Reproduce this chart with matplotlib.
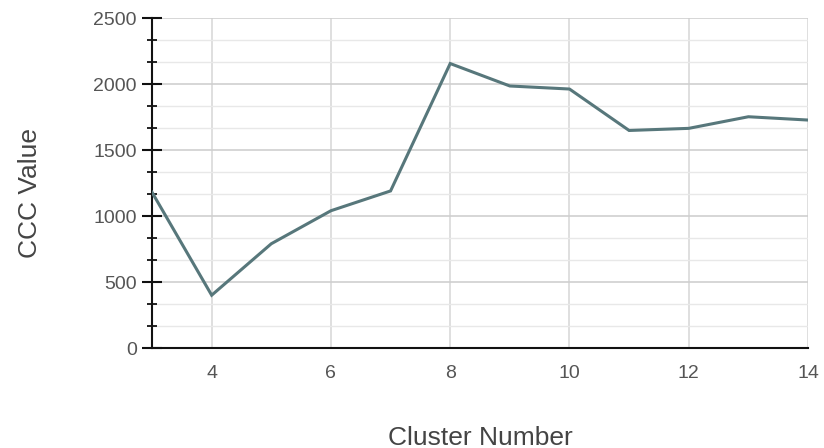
import matplotlib
matplotlib.use("Agg")
import matplotlib.pyplot as plt
from matplotlib.ticker import MultipleLocator

# CCC criterion by number of clusters
cluster_numbers = [3, 4, 5, 6, 7, 8, 9, 10, 11, 12, 13, 14]
ccc_values = [1180, 400, 790, 1040, 1190, 2155, 1985, 1962, 1648, 1664, 1752, 1727]

x_ticks = [4, 6, 8, 10, 12, 14]
y_ticks = [0, 500, 1000, 1500, 2000, 2500]

plt.rcParams["font.family"] = ["Liberation Sans", "DejaVu Sans"]

fig = plt.figure(figsize=(8.24, 4.48), dpi=100)
ax = fig.add_axes([0.1845, 0.2232, 0.7961, 0.7366])

ax.plot(cluster_numbers, ccc_values, color="#57777b", linewidth=2.2,
        solid_joinstyle="miter", zorder=3)

ax.set_xlim(3, 14)
ax.set_ylim(0, 2500)
ax.set_xticks(x_ticks)
ax.set_yticks(y_ticks)
ax.yaxis.set_minor_locator(MultipleLocator(500 / 3))

# grid
ax.grid(True, which="major", axis="y", color="#cfcfcf", linewidth=1.2, zorder=0)
ax.grid(True, which="minor", axis="y", color="#e8e8e8", linewidth=1.0, zorder=0)
ax.grid(True, which="major", axis="x", color="#d9d9d9", linewidth=1.2, zorder=0)

# spines
for side in ("top", "right"):
    ax.spines[side].set_visible(False)
ax.spines["left"].set_color("#111111")
ax.spines["left"].set_linewidth(1.5)
ax.spines["bottom"].set_color("#111111")
ax.spines["bottom"].set_linewidth(1.5)

ax.tick_params(axis="y", which="major", direction="inout", length=14, width=1.5,
               color="#111111", labelsize=14, labelcolor="#555555", pad=4)
ax.tick_params(axis="y", which="minor", direction="inout", length=7, width=1.3,
               color="#111111")
ax.tick_params(axis="x", which="major", length=0, labelsize=14,
               labelcolor="#555555", pad=12)

ax.set_xlabel("Cluster Number", fontsize=19, color="#444444")
ax.set_ylabel("CCC Value", fontsize=19, color="#444444")
ax.xaxis.set_label_coords(0.5, -0.235)
ax.yaxis.set_label_coords(-0.168, 0.47)

fig.savefig("out.png", dpi=100, facecolor="white")
